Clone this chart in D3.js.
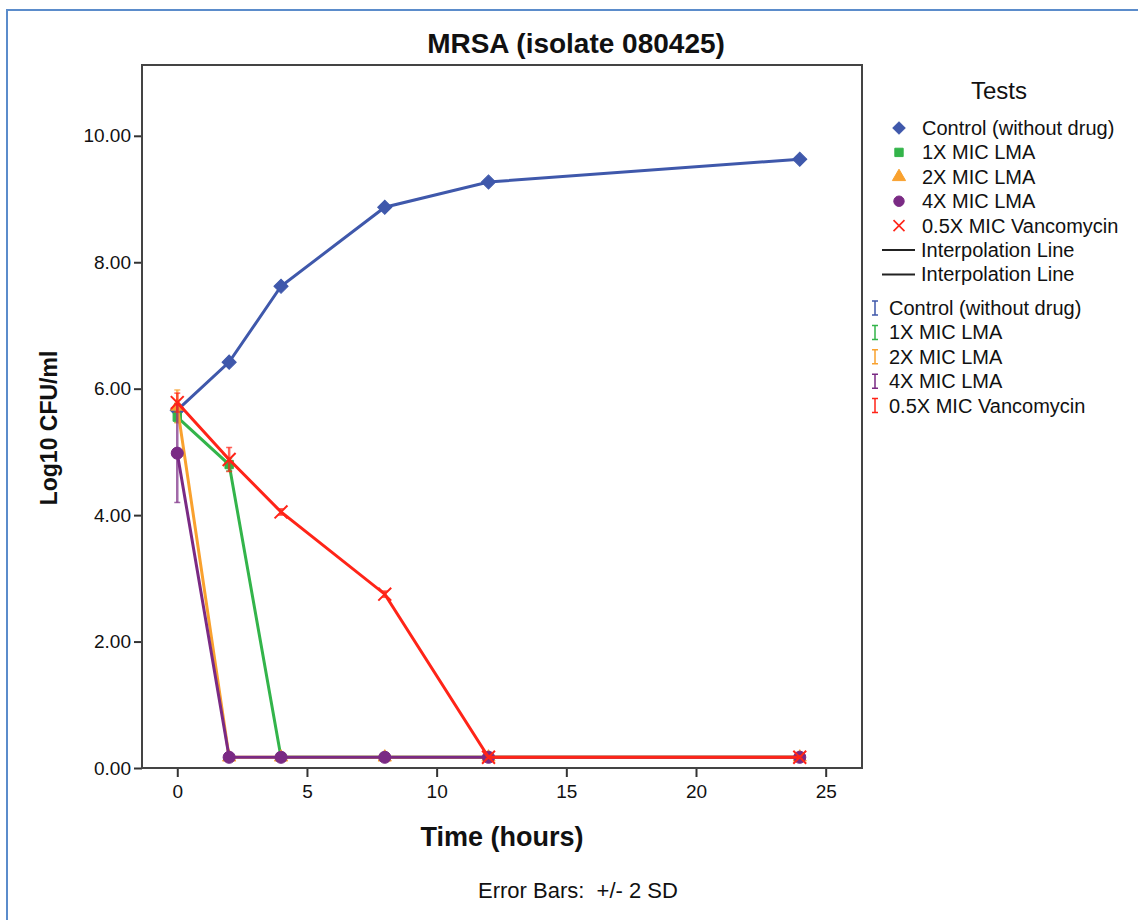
<!DOCTYPE html>
<html>
<head>
<meta charset="utf-8">
<script src="https://cdn.jsdelivr.net/npm/d3@7"></script>
<style>
  body { margin: 0; background: #fff; }
  text { font-family: "Liberation Sans", Arial, sans-serif; fill: #111; }
</style>
</head>
<body>
<div id="chart"></div>
<script>
// sampling times (hours)
var times = [0, 2, 4, 8, 12, 24];

// mean log10 CFU/ml for each test
var controlVals = [5.66, 6.42, 7.62, 8.87, 9.27, 9.63];
var lma1xVals   = [5.55, 4.80, 0.17, 0.17, 0.17, 0.17];
var lma2xVals   = [5.72, 0.17, 0.17, 0.17, 0.17, 0.17];
var lma4xVals   = [4.98, 0.17, 0.17, 0.17, 0.17, 0.17];
var vancoVals   = [5.78, 4.88, 4.05, 2.75, 0.17, 0.17];

// half-width of the error bars (2 SD)
var controlErr = [0.05, 0.04, 0.04, 0.04, 0.04, 0.04];
var lma1xErr   = [0.08, 0.10, 0.02, 0.02, 0.02, 0.02];
var lma2xErr   = [0.26, 0.02, 0.02, 0.02, 0.02, 0.02];
var lma4xErr   = [0.78, 0.02, 0.02, 0.02, 0.02, 0.02];
var vancoErr   = [0.15, 0.19, 0.05, 0.05, 0.02, 0.02];

var seriesNames = ['Control (without drug)', '1X MIC LMA', '2X MIC LMA', '4X MIC LMA', '0.5X MIC Vancomycin'];
var xTicks = [0, 5, 10, 15, 20, 25];
var yTicks = [0, 2, 4, 6, 8, 10];

var WIDTH = 1138, HEIGHT = 920;
var PLOT = { left: 142, top: 65, right: 862, bottom: 768 };
var FONT = '"Liberation Sans", Arial, sans-serif';

var series = [
    { name: seriesNames[0], vals: controlVals, err: controlErr, color: '#3f58ab', shape: 'diamond' },
    { name: seriesNames[1], vals: lma1xVals,   err: lma1xErr,   color: '#33b44a', shape: 'square' },
    { name: seriesNames[2], vals: lma2xVals,   err: lma2xErr,   color: '#f9a12e', shape: 'triangle' },
    { name: seriesNames[3], vals: lma4xVals,   err: lma4xErr,   color: '#7a2a84', shape: 'circle' },
    { name: seriesNames[4], vals: vancoVals,   err: vancoErr,   color: '#ff2418', shape: 'cross' }
];

// marker sizes in the plot and in the legend
var plotSymbols = {
    diamond  : d3.symbol().type(d3.symbolSquare).size(100),
    square   : d3.symbol().type(d3.symbolSquare).size(70),
    triangle : d3.symbol().type(d3.symbolTriangle).size(75),
    circle   : d3.symbol().type(d3.symbolCircle).size(115),
    cross    : d3.symbol().type(d3.symbolTimes).size(110)
};
var legendSymbols = {
    diamond  : d3.symbol().type(d3.symbolSquare).size(75),
    square   : d3.symbol().type(d3.symbolSquare).size(70),
    triangle : d3.symbol().type(d3.symbolTriangle).size(75),
    circle   : d3.symbol().type(d3.symbolCircle).size(85),
    cross    : d3.symbol().type(d3.symbolTimes).size(80)
};

var x = d3.scaleLinear().domain([-1.36, 26.4]).range([PLOT.left, PLOT.right]);
var y = d3.scaleLinear().domain([0, 11.12]).range([PLOT.bottom, PLOT.top]);

var svg = d3.select('#chart')
            .append('svg')
            .attr('width', WIDTH)
            .attr('height', HEIGHT);

// outer blue frame
svg.append('rect')
    .attr('x', 7).attr('y', 10)
    .attr('width', WIDTH + 20).attr('height', HEIGHT + 20)
    .attr('fill', 'none')
    .attr('stroke', '#5b8ccb')
    .attr('stroke-width', 2);

function styleAxis(g) {
    g.select('.domain').remove();
    g.selectAll('line').attr('stroke', '#333').attr('stroke-width', 2);
    g.selectAll('text').style('font-size', '19px').attr('fill', '#111').style('font-family', FONT);
}

// axes
svg.append('g')
    .attr('transform', 'translate(0,' + PLOT.bottom + ')')
    .call(d3.axisBottom(x).tickValues(xTicks).tickSize(9).tickPadding(8).tickFormat(d3.format('d')))
    .call(styleAxis);

svg.append('g')
    .attr('transform', 'translate(' + PLOT.left + ',0)')
    .call(d3.axisLeft(y).tickValues(yTicks).tickSize(8).tickPadding(3).tickFormat(d3.format('.2f')))
    .call(styleAxis);

// plot frame
svg.append('rect')
    .attr('x', PLOT.left).attr('y', PLOT.top)
    .attr('width', PLOT.right - PLOT.left).attr('height', PLOT.bottom - PLOT.top)
    .attr('fill', 'none')
    .attr('stroke', '#444')
    .attr('stroke-width', 2);

var line = d3.line()
             .x(function(d) { return x(d.t); })
             .y(function(d) { return y(d.v); });

function points(s) {
    return times.map(function(t, i) { return { t: t, v: s.vals[i], e: s.err[i], color: s.color }; });
}

// lines, error bars and markers per series
series.forEach(function(s) {
    var g = svg.append('g');
    var pts = points(s);

    g.append('path')
        .attr('d', line(pts))
        .attr('fill', 'none')
        .attr('stroke', s.color)
        .attr('stroke-width', 3);

    var eb = g.selectAll('g.err').data(pts).enter().append('g').attr('class', 'err');
    eb.append('line')
        .attr('x1', function(d) { return x(d.t); })
        .attr('x2', function(d) { return x(d.t); })
        .attr('y1', function(d) { return y(d.v - d.e); })
        .attr('y2', function(d) { return y(d.v + d.e); })
        .attr('stroke', s.color).attr('stroke-width', 2.5).attr('opacity', 0.7);
    [-1, 1].forEach(function(sign) {
        eb.append('line')
            .attr('x1', function(d) { return x(d.t) - 3; })
            .attr('x2', function(d) { return x(d.t) + 3; })
            .attr('y1', function(d) { return y(d.v + sign * d.e); })
            .attr('y2', function(d) { return y(d.v + sign * d.e); })
            .attr('stroke', s.color).attr('stroke-width', 1.5).attr('opacity', 0.7);
    });

    g.selectAll('path.mark').data(pts).enter().append('path')
        .attr('class', 'mark')
        .attr('d', plotSymbols[s.shape])
        .attr('transform', function(d) {
            return 'translate(' + x(d.t) + ',' + y(d.v) + ')' + (s.shape === 'diamond' ? ' rotate(45)' : '');
        })
        .attr('fill', s.shape === 'cross' ? 'none' : s.color)
        .attr('stroke', s.color)
        .attr('stroke-width', s.shape === 'cross' ? 2 : 1);
});

// titles
svg.append('text')
    .attr('x', 576).attr('y', 53)
    .attr('text-anchor', 'middle')
    .style('font-size', '28px').style('font-weight', 'bold')
    .text('MRSA (isolate 080425)');

svg.append('text')
    .attr('transform', 'translate(57,428) rotate(-90)')
    .attr('text-anchor', 'middle')
    .style('font-size', '23px').style('font-weight', 'bold')
    .text('Log10 CFU/ml');

svg.append('text')
    .attr('x', 502).attr('y', 846)
    .attr('text-anchor', 'middle')
    .style('font-size', '27px').style('font-weight', 'bold')
    .text('Time (hours)');

svg.append('text')
    .attr('x', 578).attr('y', 898)
    .attr('text-anchor', 'middle')
    .style('font-size', '22px')
    .text('Error Bars:\u00a0 +/- 2 SD');

// legend
var legend = svg.append('g');
legend.append('text')
    .attr('x', 999).attr('y', 99)
    .attr('text-anchor', 'middle')
    .style('font-size', '24px')
    .text('Tests');

var rowH = 24.4;
var markRows = legend.selectAll('g.mk').data(series).enter().append('g')
    .attr('transform', function(d, i) { return 'translate(0,' + (128 + i * rowH) + ')'; });
markRows.append('path')
    .attr('d', function(d) { return legendSymbols[d.shape](); })
    .attr('transform', function(d) { return 'translate(899,0)' + (d.shape === 'diamond' ? ' rotate(45)' : ''); })
    .attr('fill', function(d) { return d.shape === 'cross' ? 'none' : d.color; })
    .attr('stroke', function(d) { return d.color; })
    .attr('stroke-width', function(d) { return d.shape === 'cross' ? 1.6 : 1; });
markRows.append('text')
    .attr('x', 922).attr('dy', '0.35em')
    .style('font-size', '20px')
    .text(function(d) { return d.name; });

var lineRows = legend.selectAll('g.ln').data(['Interpolation Line', 'Interpolation Line']).enter().append('g')
    .attr('transform', function(d, i) { return 'translate(0,' + (250 + i * rowH) + ')'; });
lineRows.append('line')
    .attr('x1', 882).attr('x2', 915)
    .attr('stroke', '#222').attr('stroke-width', 2);
lineRows.append('text')
    .attr('x', 921).attr('dy', '0.35em')
    .style('font-size', '20px')
    .text(function(d) { return d; });

var errRows = legend.selectAll('g.eb').data(series).enter().append('g')
    .attr('transform', function(d, i) { return 'translate(0,' + (308 + i * rowH) + ')'; });
errRows.append('path')
    .attr('d', 'M872,-7H878M875,-7V7M872,7H878')
    .attr('fill', 'none')
    .attr('stroke', function(d) { return d.color; })
    .attr('stroke-width', 1.5);
errRows.append('text')
    .attr('x', 889).attr('dy', '0.35em')
    .style('font-size', '20px')
    .text(function(d) { return d.name; });
</script>
</body>
</html>
